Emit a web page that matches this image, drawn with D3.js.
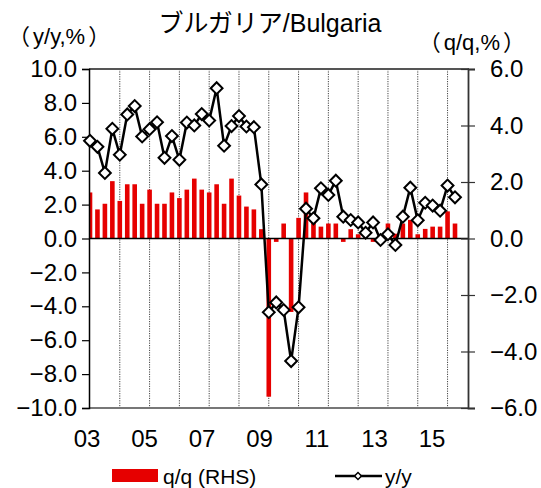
<!DOCTYPE html>
<html>
<head>
<meta charset="utf-8">
<script src="https://cdn.jsdelivr.net/npm/d3@7"></script>
<style>
  html, body { margin: 0; padding: 0; background: #fff; }
  svg text { font-family: "Liberation Sans", Arial, "Noto Sans CJK JP", sans-serif; fill: #000; }
</style>
</head>
<body>
<svg id="chart" width="541" height="488"></svg>
<script>
// ---- data ----
const quarters = [
  "2003Q1","2003Q2","2003Q3","2003Q4","2004Q1","2004Q2","2004Q3","2004Q4",
  "2005Q1","2005Q2","2005Q3","2005Q4","2006Q1","2006Q2","2006Q3","2006Q4",
  "2007Q1","2007Q2","2007Q3","2007Q4","2008Q1","2008Q2","2008Q3","2008Q4",
  "2009Q1","2009Q2","2009Q3","2009Q4","2010Q1","2010Q2","2010Q3","2010Q4",
  "2011Q1","2011Q2","2011Q3","2011Q4","2012Q1","2012Q2","2012Q3","2012Q4",
  "2013Q1","2013Q2","2013Q3","2013Q4","2014Q1","2014Q2","2014Q3","2014Q4",
  "2015Q1","2015Q2"
];
// q/q (RHS), %
const qoq = [
  1.63, 1.03, 1.23, 2.03, 1.33, 1.92, 1.92, 1.23,
  1.73, 1.23, 1.23, 1.63, 1.43, 1.73, 2.12, 1.73,
  1.63, 1.92, 1.23, 2.12, 1.52, 1.13, 1.03, 0.33,
  -5.6, -0.12, 0.53, -2.6, 0.73, 1.63, 0.6, 0.42,
  0.53, 0.53, -0.12, 0.33, 0.15, 0.15, -0.12, 0.1,
  0.53, 0.17, 0.53, 0.66, 0.15, 0.34, 0.42, 0.42,
  0.96, 0.53
];
// y/y (LHS), %
const yoy = [
  5.76, 5.41, 3.87, 6.47, 4.94, 7.32, 7.81, 6.02,
  6.45, 6.86, 4.76, 6.04, 4.64, 6.84, 6.67, 7.34,
  6.96, 8.87, 5.47, 6.63, 7.22, 6.61, 6.57, 3.19,
  -4.35, -3.77, -4.22, -7.23, -4.06, 1.76, 1.19, 2.96,
  2.57, 3.41, 1.29, 1.09, 0.95, 0.34, 0.95, -0.09,
  0.25, -0.38, 1.29, 3.0, 1.07, 2.11, 1.94, 1.64,
  3.12, 2.43
];
const yearLabels = ["03","05","07","09","11","13","15"];
const leftTicks = [10,8,6,4,2,0,-2,-4,-6,-8,-10];
const rightTicks = [6,4,2,0,-2,-4,-6];
const titleText = "ブルガリア/Bulgaria";
const leftUnit = ["（", "y/y,%", "）"];
const rightUnit = ["（", "q/q,%", "）"];
const legendBar = "q/q (RHS)";
const legendLine = "y/y";

// ---- layout ----
const L = 89, R = 468, T = 69, B = 408;
const svg = d3.select("#chart");
const CJK = "'Noto Sans CJK JP', sans-serif";
const LAT = "'Liberation Sans', Arial, sans-serif";

const x = d3.scaleLinear().domain([0, quarters.length - 1]).range([90, 455]);
const yL = d3.scaleLinear().domain([-10, 10]).range([B, T]);
const yR = d3.scaleLinear().domain([-6, 6]).range([B, T]);
const xLab = d3.scalePoint().domain(yearLabels).range([87, 432]);

svg.append("defs").append("clipPath").attr("id", "plotclip")
  .append("rect").attr("x", L).attr("y", T).attr("width", R - L).attr("height", B - T);

// vertical dotted gridlines at each year start
const gridIdx = d3.range(4, quarters.length + 2, 4);
svg.append("g").selectAll("line").data(gridIdx).join("line")
  .attr("x1", d => Math.min(x(d), R)).attr("x2", d => Math.min(x(d), R))
  .attr("y1", T).attr("y2", B)
  .attr("stroke", "#444").attr("stroke-width", 1).attr("stroke-dasharray", "1.2,1.2");

// bars
svg.append("g").attr("clip-path", "url(#plotclip)")
  .selectAll("rect").data(qoq).join("rect")
  .attr("x", (d, i) => x(i) - 2.3)
  .attr("width", 4.6)
  .attr("y", d => yR(Math.max(0, d)))
  .attr("height", d => Math.abs(yR(d) - yR(0)))
  .attr("fill", "#e60000");

// zero line
svg.append("line").attr("x1", L).attr("x2", R).attr("y1", yL(0)).attr("y2", yL(0))
  .attr("stroke", "#000").attr("stroke-width", 1.5);

// frame
svg.append("line").attr("x1", L).attr("x2", R + 1).attr("y1", T).attr("y2", T)
  .attr("stroke", "#555").attr("stroke-width", 2);
svg.append("line").attr("x1", L).attr("x2", R + 1).attr("y1", B).attr("y2", B)
  .attr("stroke", "#777").attr("stroke-width", 2);

// left axis
const axL = svg.append("g").attr("transform", `translate(${L},0)`)
  .call(d3.axisLeft(yL).tickValues(leftTicks).tickFormat(d3.format(".1f")).tickSize(7).tickPadding(5));
axL.select(".domain").attr("stroke", "#000").attr("stroke-width", 1.5);
axL.selectAll(".tick line").attr("stroke", "#000").attr("stroke-width", 1.2);
axL.selectAll(".tick text").attr("font-size", 24).attr("font-family", LAT);

// right axis
const axR = svg.append("g").attr("transform", `translate(${R},0)`)
  .call(d3.axisRight(yR).tickValues(rightTicks).tickFormat(d3.format(".1f")).tickSize(7).tickPadding(15));
axR.select(".domain").attr("stroke", "#333").attr("stroke-width", 1.8);
axR.selectAll(".tick line").attr("stroke", "#333").attr("stroke-width", 1.2).attr("x1", -7);
axR.selectAll(".tick text").attr("font-size", 24).attr("font-family", LAT);

// line y/y
const lineGen = d3.line().x((d, i) => x(i)).y(d => yL(d));
svg.append("path").datum(yoy).attr("d", lineGen)
  .attr("fill", "none").attr("stroke", "#000").attr("stroke-width", 2.5).attr("stroke-linejoin", "round");

svg.append("g").selectAll("path").data(yoy).join("path")
  .attr("transform", (d, i) => `translate(${x(i)},${yL(d)}) rotate(45)`)
  .attr("d", d3.symbol().type(d3.symbolSquare).size(70))
  .attr("fill", "#fff").attr("stroke", "#000").attr("stroke-width", 2);

// x labels
svg.append("g").selectAll("text").data(yearLabels).join("text")
  .attr("x", d => xLab(d)).attr("y", 447)
  .attr("text-anchor", "middle").attr("font-size", 24).attr("font-family", LAT).text(d => d);

// titles
svg.append("text").attr("x", 270).attr("y", 32).attr("text-anchor", "middle")
  .attr("font-size", 25).text(titleText);

function unitLabel(parts, xPos, yPos, anchor) {
  const t = svg.append("text").attr("x", xPos).attr("y", yPos).attr("text-anchor", anchor)
    .attr("font-size", 22);
  t.append("tspan").attr("font-family", CJK).text(parts[0]);
  t.append("tspan").attr("font-family", LAT).attr("dx", 3).text(parts[1]);
  t.append("tspan").attr("font-family", CJK).attr("dx", 3).text(parts[2]);
}
unitLabel(leftUnit, 8, 44, "start");
unitLabel(rightUnit, 525, 50, "end");

// legend
svg.append("rect").attr("x", 112).attr("y", 469).attr("width", 46).attr("height", 13).attr("fill", "#e60000");
svg.append("text").attr("x", 163).attr("y", 484).attr("font-size", 21).attr("font-family", LAT).text(legendBar);
svg.append("line").attr("x1", 335).attr("x2", 382).attr("y1", 476).attr("y2", 476)
  .attr("stroke", "#000").attr("stroke-width", 2.5);
svg.append("path").attr("transform", "translate(358,476) rotate(45)")
  .attr("d", d3.symbol().type(d3.symbolSquare).size(24))
  .attr("fill", "#fff").attr("stroke", "#000").attr("stroke-width", 1.5);
svg.append("text").attr("x", 385).attr("y", 484).attr("font-size", 21).attr("font-family", LAT).text(legendLine);
</script>
</body>
</html>
